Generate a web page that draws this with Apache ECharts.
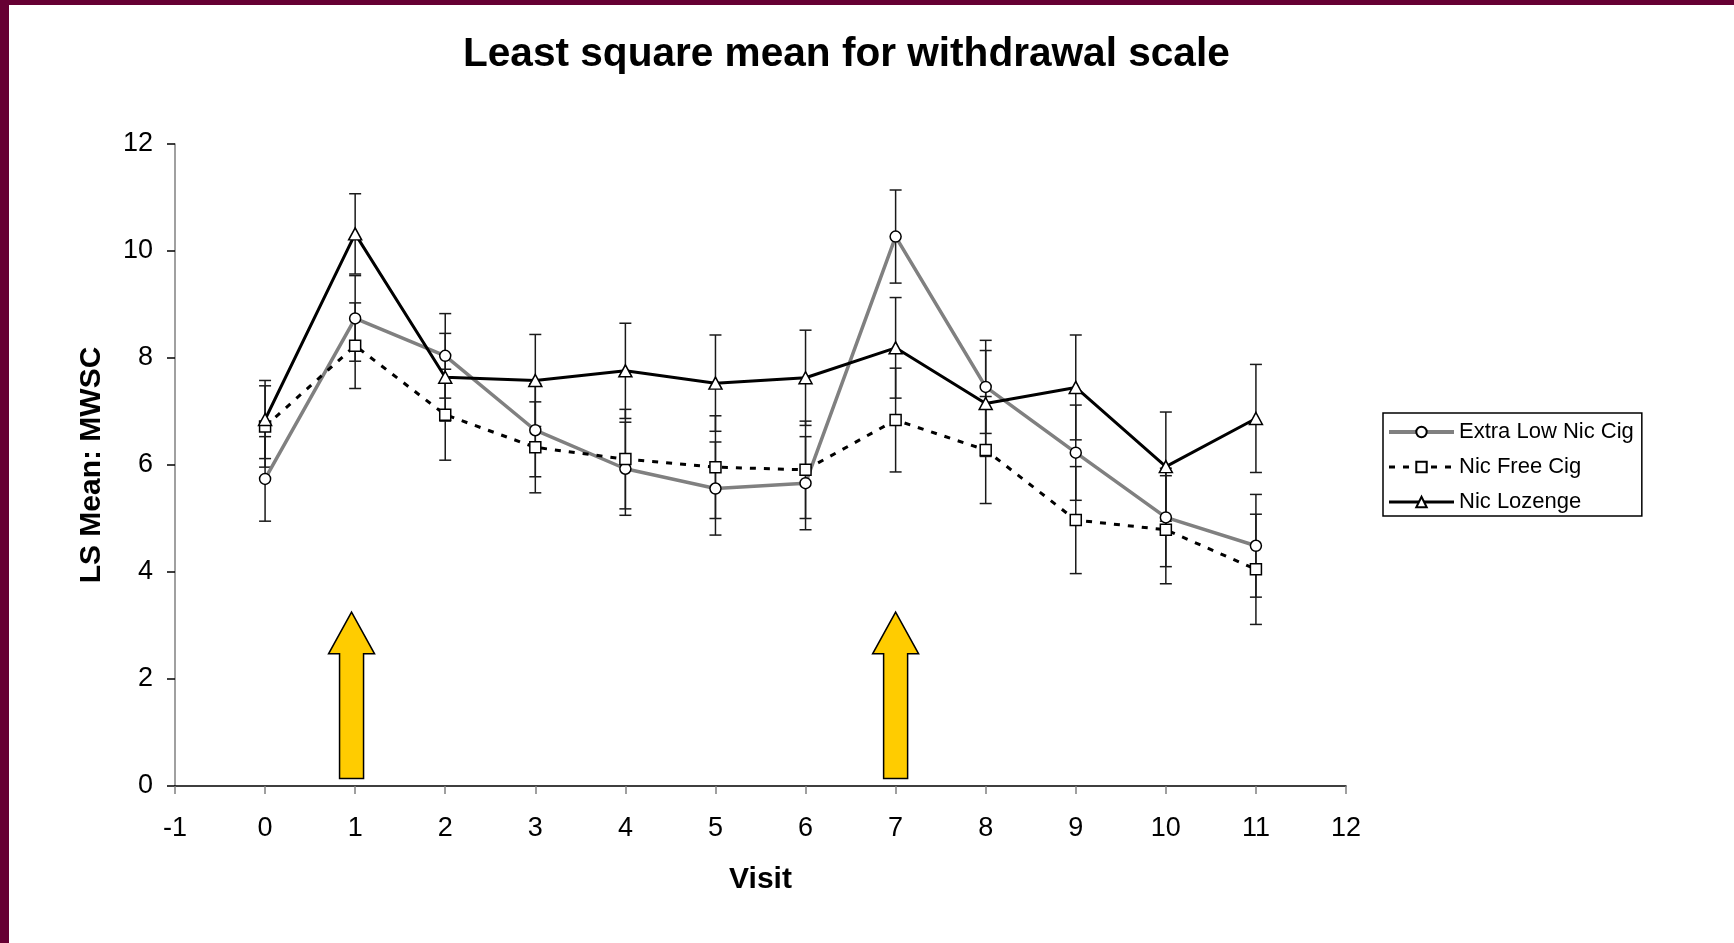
<!DOCTYPE html>
<html lang="en">
<head>
    <meta charset="UTF-8">
    <title>Least square mean for withdrawal scale</title>
    <script src="https://cdn.jsdelivr.net/npm/echarts@6.0.0/dist/echarts.min.js"></script>
    <style>
        html, body {
            margin: 0;
            padding: 0;
            background: #fff;
        }
        #chart {
            width: 1734px;
            height: 943px;
        }
    </style>
</head>
<body>
<div id="chart"></div>
<script>
    var visits = [0, 1, 2, 3, 4, 5, 6, 7, 8, 9, 10, 11];

    // Extra Low Nic Cig (circles)
    var extraLowMean = [5.74, 8.74, 8.04, 6.65, 5.93, 5.56, 5.66, 10.27, 7.46, 6.23, 5.02, 4.49];
    var extraLowErr = [0.79, 0.80, 0.79, 0.87, 0.87, 0.87, 0.87, 0.87, 0.87, 0.89, 0.92, 0.96];

    // Nic Free Cig (squares)
    var nicFreeMean = [6.72, 8.23, 6.94, 6.33, 6.11, 5.96, 5.91, 6.84, 6.28, 4.97, 4.79, 4.05];
    var nicFreeErr = [0.76, 0.80, 0.85, 0.85, 0.93, 0.96, 0.91, 0.97, 1.00, 1.00, 1.01, 1.03];

    // Nic Lozenge (triangles)
    var lozengeMean = [6.85, 10.32, 7.64, 7.58, 7.76, 7.53, 7.63, 8.19, 7.15, 7.45, 5.97, 6.87];
    var lozengeErr = [0.73, 0.75, 0.82, 0.86, 0.89, 0.90, 0.89, 0.94, 0.99, 0.98, 1.02, 1.01];

    // yellow arrows
    var arrowVisits = [0.96, 7];
    var arrowBase = 0.14;
    var arrowShoulder = 2.47;
    var arrowTip = 3.25;

    var font = "'Liberation Sans', Arial, sans-serif";

    function points(means) {
        return visits.map(function (v, i) {
            return [v, means[i]];
        });
    }

    function errorBars(means, errs) {
        return visits.map(function (v, i) {
            return [v, means[i] - errs[i], means[i] + errs[i]];
        });
    }

    function renderErrorBar(params, api) {
        var x = api.value(0);
        var lo = api.coord([x, api.value(1)]);
        var hi = api.coord([x, api.value(2)]);
        var cap = 6;
        var style = {stroke: "#1a1a1a", lineWidth: 1.5};
        return {
            type: "group",
            children: [
                {type: "line", shape: {x1: lo[0], y1: lo[1], x2: hi[0], y2: hi[1]}, style: style},
                {type: "line", shape: {x1: lo[0] - cap, y1: lo[1], x2: lo[0] + cap, y2: lo[1]}, style: style},
                {type: "line", shape: {x1: hi[0] - cap, y1: hi[1], x2: hi[0] + cap, y2: hi[1]}, style: style}
            ]
        };
    }

    function renderArrow(params, api) {
        var x = api.value(0);
        var base = api.coord([x, api.value(1)]);
        var shoulder = api.coord([x, api.value(2)]);
        var tip = api.coord([x, api.value(3)]);
        var cx = base[0], head = 23, shaft = 12;
        return {
            type: "polygon",
            shape: {
                points: [
                    [cx, tip[1]],
                    [cx + head, shoulder[1]],
                    [cx + shaft, shoulder[1]],
                    [cx + shaft, base[1]],
                    [cx - shaft, base[1]],
                    [cx - shaft, shoulder[1]],
                    [cx - head, shoulder[1]]
                ]
            },
            style: {fill: "#FFCC00", stroke: "#000", lineWidth: 1.5}
        };
    }

    var arrowData = arrowVisits.map(function (v) {
        return [v, arrowBase, arrowShoulder, arrowTip];
    });

    var myChart = echarts.init(document.getElementById("chart"));

    myChart.setOption({
        animation: false,
        backgroundColor: "#fff",
        title: {
            text: "Least square mean for withdrawal scale",
            left: 458,
            top: 29,
            textStyle: {
                fontSize: 40.6,
                fontWeight: "bold",
                color: "#000",
                fontFamily: font
            }
        },
        graphic: [
            {type: "rect", left: 0, top: 0, shape: {width: 1734, height: 5}, style: {fill: "#660033"}},
            {type: "rect", left: 0, top: 0, shape: {width: 9, height: 943}, style: {fill: "#660033"}}
        ],
        legend: {
            data: [
                {name: "Extra Low Nic Cig", lineStyle: {width: 4}},
                {name: "Nic Free Cig", lineStyle: {width: 3}},
                {name: "Nic Lozenge", lineStyle: {width: 3}}
            ],
            orient: "vertical",
            left: 1383,
            top: 413,
            itemWidth: 65,
            itemHeight: 13,
            itemGap: 13,
            padding: [8, 8, 3, 4],
            borderColor: "#000",
            borderWidth: 1.5,
            textStyle: {
                fontSize: 22,
                color: "#000",
                fontFamily: font
            }
        },
        grid: {
            left: 175,
            right: 388,
            top: 144,
            bottom: 157,
            containLabel: false,
            outerBoundsMode: "none"
        },
        xAxis: {
            type: "value",
            min: -1,
            max: 12,
            interval: 1,
            name: "Visit",
            nameLocation: "middle",
            nameGap: 79,
            nameTextStyle: {fontSize: 30, fontWeight: "bold", color: "#000", fontFamily: font},
            axisLine: {show: true, onZero: false, lineStyle: {color: "#000", width: 1.5}},
            axisTick: {show: true, length: 8, lineStyle: {color: "#808080", width: 1.5}},
            axisLabel: {fontSize: 27, color: "#000", margin: 29, fontFamily: font, showMinLabel: true, showMaxLabel: true},
            splitLine: {show: false}
        },
        yAxis: {
            type: "value",
            min: 0,
            max: 12,
            interval: 2,
            name: "LS Mean: MWSC",
            nameLocation: "middle",
            nameGap: 68,
            nameTextStyle: {fontSize: 30, fontWeight: "bold", color: "#000", fontFamily: font},
            axisLine: {show: true, onZero: false, lineStyle: {color: "#808080", width: 1.5}},
            axisTick: {show: true, length: 8, lineStyle: {color: "#000", width: 1.5}},
            axisLabel: {fontSize: 27, color: "#000", margin: 22, fontFamily: font, showMinLabel: true, showMaxLabel: true},
            splitLine: {show: false}
        },
        series: [
            {
                type: "custom",
                name: "arrows",
                renderItem: renderArrow,
                data: arrowData,
                encode: {x: 0, y: [1, 2, 3]},
                silent: true,
                z: 1
            },
            {
                type: "custom",
                name: "err1",
                renderItem: renderErrorBar,
                data: errorBars(extraLowMean, extraLowErr),
                encode: {x: 0, y: [1, 2]},
                silent: true,
                z: 2
            },
            {
                type: "custom",
                name: "err2",
                renderItem: renderErrorBar,
                data: errorBars(nicFreeMean, nicFreeErr),
                encode: {x: 0, y: [1, 2]},
                silent: true,
                z: 2
            },
            {
                type: "custom",
                name: "err3",
                renderItem: renderErrorBar,
                data: errorBars(lozengeMean, lozengeErr),
                encode: {x: 0, y: [1, 2]},
                silent: true,
                z: 2
            },
            {
                type: "line",
                name: "Extra Low Nic Cig",
                data: points(extraLowMean),
                symbol: "circle",
                symbolSize: 11,
                lineStyle: {color: "#808080", width: 3.5},
                itemStyle: {color: "#fff", borderColor: "#000", borderWidth: 1.5},
                z: 3
            },
            {
                type: "line",
                name: "Nic Free Cig",
                data: points(nicFreeMean),
                symbol: "rect",
                symbolSize: 11,
                lineStyle: {color: "#000", width: 3, type: [6, 8]},
                itemStyle: {color: "#fff", borderColor: "#000", borderWidth: 1.5},
                z: 4
            },
            {
                type: "line",
                name: "Nic Lozenge",
                data: points(lozengeMean),
                symbol: "triangle",
                symbolSize: [13, 12],
                lineStyle: {color: "#000", width: 3},
                itemStyle: {color: "#fff", borderColor: "#000", borderWidth: 1.5},
                z: 5
            }
        ]
    });
</script>
</body>
</html>
